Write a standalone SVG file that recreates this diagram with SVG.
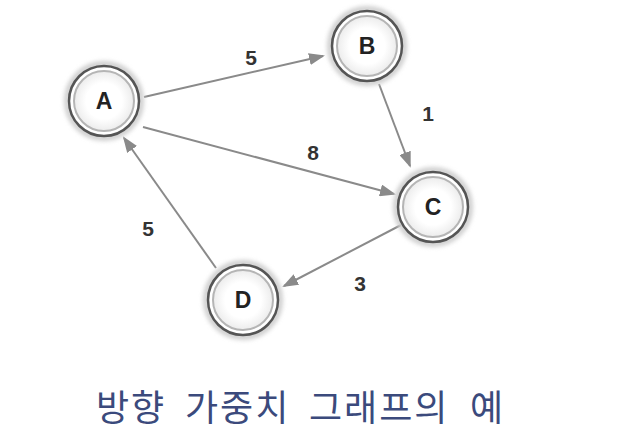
<svg xmlns="http://www.w3.org/2000/svg" width="617" height="447" viewBox="0 0 617 447">
<style>
.halo{fill:none;stroke:#cfcfcf;stroke-width:6;filter:url(#blur)}
.outer{fill:#fff;stroke:#555;stroke-width:2.5}
.inner{fill:url(#g);stroke:#b5b5b5;stroke-width:2}
.lbl{font-family:"Liberation Sans",Arial,sans-serif;font-weight:bold;font-size:23px;fill:#222;text-anchor:middle}
.w{font-family:"Liberation Sans",Arial,sans-serif;font-weight:bold;font-size:21px;fill:#333;text-anchor:middle}
.e{stroke:#8a8a8a;stroke-width:2;fill:none;marker-end:url(#arr)}
.t{font-family:"Noto Sans CJK KR",sans-serif;font-size:36px;fill:#3b4a7c;letter-spacing:2px}
</style>
<defs>
<filter id="blur" x="-50%" y="-50%" width="200%" height="200%"><feGaussianBlur stdDeviation="2"/></filter>
<radialGradient id="g"><stop offset="0.6" stop-color="#fff"/><stop offset="1" stop-color="#ececec"/></radialGradient>
<marker id="arr" markerWidth="16" markerHeight="12" refX="14" refY="6" orient="auto" markerUnits="userSpaceOnUse"><path d="M0,0 L16,6 L0,12 z" fill="#8a8a8a"/></marker>
</defs>
<rect width="617" height="447" fill="#fff"/>
<g id="connectors">
<line class="e" x1="144" y1="97" x2="323" y2="56"/>
<line class="e" x1="379" y1="84" x2="410" y2="166"/>
<line class="e" x1="143" y1="127" x2="394" y2="194"/>
<line class="e" x1="401" y1="225" x2="284" y2="286"/>
<line class="e" x1="216" y1="268" x2="124" y2="138"/>
<text class="w" x="251" y="65">5</text>
<text class="w" x="428" y="121">1</text>
<text class="w" x="313" y="160">8</text>
<text class="w" x="360" y="291">3</text>
<text class="w" x="148" y="236">5</text>
</g>
<g id="A"><circle class="halo" cx="104" cy="101" r="37"/><circle class="outer" cx="104" cy="101" r="35"/><circle class="inner" cx="104" cy="101" r="30"/><text class="lbl" x="104" y="109">A</text></g>
<g id="B"><circle class="halo" cx="367" cy="46" r="37"/><circle class="outer" cx="367" cy="46" r="35"/><circle class="inner" cx="367" cy="46" r="30"/><text class="lbl" x="367" y="54">B</text></g>
<g id="C"><circle class="halo" cx="433" cy="207" r="37"/><circle class="outer" cx="433" cy="207" r="35"/><circle class="inner" cx="433" cy="207" r="30"/><text class="lbl" x="433" y="215">C</text></g>
<g id="D"><circle class="halo" cx="243" cy="300" r="37"/><circle class="outer" cx="243" cy="300" r="35"/><circle class="inner" cx="243" cy="300" r="30"/><text class="lbl" x="243" y="308">D</text></g>
<g id="title">
<text class="t" x="96" y="421">방향</text>
<text class="t" x="185" y="421">가중치</text>
<text class="t" x="309" y="421">그래프의</text>
<text class="t" x="470" y="421">예</text>
</g>
</svg>
